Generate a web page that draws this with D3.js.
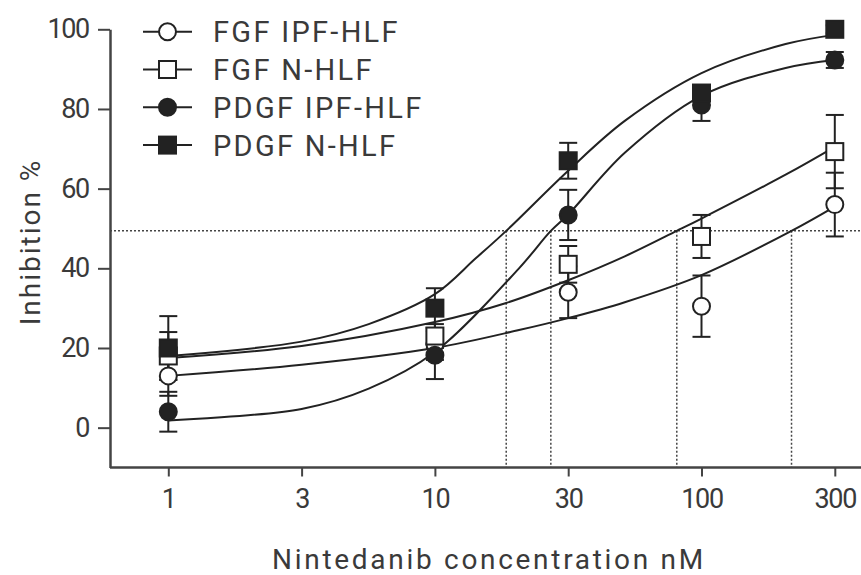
<!DOCTYPE html>
<html>
<head>
<meta charset="utf-8">
<script src="https://cdn.jsdelivr.net/npm/d3@7"></script>
<style>
  body { margin: 0; background: #fff; }
  text { font-family: Roboto, "DejaVu Sans", sans-serif; fill: #3a3a3a; }
</style>
</head>
<body>
<svg width="861" height="575"></svg>
<script>
// concentrations (nM) and tick labels
var xTicks = [1, 3, 10, 30, 100, 300];
var doses = [1, 10, 30, 100, 300];
var yTicks = [0, 20, 40, 60, 80, 100];

// mean inhibition % and error (+/-)
var fgfIpf = [13, 21, 34, 30.5, 56];
var fgfIpfErr = [5, 4, 6.5, 7.7, 8];
var fgfN = [18, 23, 41, 48, 69.3];
var fgfNErr = [6, 3, 4.6, 5.4, 9.2];
var pdgfIpf = [4, 18.2, 53.4, 81, 92.3];
var pdgfIpfErr = [5, 6, 6.3, 4, 2];
var pdgfN = [20, 30, 67, 84, 100];
var pdgfNErr = [8, 5, 4.5, 2, 1];

// fitted curves, sampled off the figure [nM, %]
var fgfIpfFit = [[1, 13], [3, 15.8], [10, 20], [20, 24.5], [30, 27.5], [50, 31.5], [100, 38.3], [210, 49.4], [300, 55.5]];
var fgfNFit = [[1, 17.5], [3, 20.5], [10, 26.5], [18, 31.3], [30, 37], [50, 43], [80, 49.4], [100, 52.5], [200, 63.5], [300, 70.5]];
var pdgfIpfFit = [[1, 1.8], [3, 4.7], [5.5, 9.8], [10, 19], [20, 40], [26, 49.4], [30, 53.5], [50, 69], [100, 83.3], [200, 90.3], [300, 92.3]];
var pdgfNFit = [[1, 18], [3, 21.6], [5.5, 26], [10, 33.5], [14, 42.5], [18, 49.4], [30, 64.5], [50, 77], [100, 89], [200, 96.3], [300, 98.6]];

// 50% guide and the crossing concentrations
var halfLevel = 49.4;
var crossings = [18, 26, 80, 210];

var series = [
  { name: "FGF IPF-HLF", shape: "circle", filled: false, values: fgfIpf, err: fgfIpfErr, fit: fgfIpfFit },
  { name: "FGF N-HLF", shape: "square", filled: false, values: fgfN, err: fgfNErr, fit: fgfNFit },
  { name: "PDGF IPF-HLF", shape: "circle", filled: true, values: pdgfIpf, err: pdgfIpfErr, fit: pdgfIpfFit },
  { name: "PDGF N-HLF", shape: "square", filled: true, values: pdgfN, err: pdgfNErr, fit: pdgfNFit }
];

var svg = d3.select("svg"),
    width = +svg.attr("width");
var ink = "#222";

// ticks on the x axis are evenly spaced, so a piecewise log scale
var x = d3.scaleLog()
    .domain(xTicks)
    .range(xTicks.map(function(d, i) { return 168.3 + i * 133.3; }));
var y = d3.scaleLinear().domain([-10, 100]).range([467.5, 29.3]);
var x0 = 110;

// guide lines
var guides = svg.append("g")
    .attr("stroke", "#444")
    .attr("stroke-width", 1.5)
    .attr("stroke-dasharray", "2,2");
guides.append("line")
    .attr("x1", x0).attr("x2", width)
    .attr("y1", y(halfLevel)).attr("y2", y(halfLevel));
guides.selectAll(".v").data(crossings).enter().append("line")
    .attr("x1", function(d) { return x(d); }).attr("x2", function(d) { return x(d); })
    .attr("y1", y(halfLevel)).attr("y2", y(-10));

// axes
svg.append("g")
    .attr("transform", "translate(" + x0 + ",0)")
    .call(d3.axisLeft(y).tickValues(yTicks).tickSize(12).tickSizeOuter(0).tickPadding(9));
var xAxis = svg.append("g")
    .attr("transform", "translate(0," + y(-10) + ")")
    .call(d3.axisBottom(x).tickValues(xTicks).tickFormat(d3.format("d")).tickSize(9).tickPadding(12));
xAxis.select(".domain").remove();
xAxis.append("line")
    .attr("x1", x0).attr("x2", width).attr("stroke", "#444").attr("stroke-width", 2.5);
svg.selectAll(".domain").attr("stroke", "#444").attr("stroke-width", 2.5);
svg.selectAll(".tick line").attr("stroke", "#444").attr("stroke-width", 2);
svg.selectAll(".tick text")
    .style("font-size", "27px")
    .style("letter-spacing", "-1.3px")
    .attr("fill", "#3a3a3a");

svg.append("text")
    .attr("x", 489).attr("y", 569)
    .attr("text-anchor", "middle")
    .style("font-size", "28px")
    .style("letter-spacing", "2.7px")
    .text("Nintedanib concentration nM");
svg.append("text")
    .attr("transform", "translate(40,242) rotate(-90)")
    .attr("text-anchor", "middle")
    .style("font-size", "28px")
    .style("letter-spacing", "2px")
    .text("Inhibition %");

// fitted curves
var line = d3.line()
    .x(function(d) { return x(d[0]); })
    .y(function(d) { return y(d[1]); })
    .curve(d3.curveCatmullRom.alpha(0.5));
svg.append("g").selectAll("path").data(series).enter().append("path")
    .attr("fill", "none")
    .attr("stroke", ink)
    .attr("stroke-width", 2)
    .attr("d", function(s) { return line(s.fit); });

function drawMarker(g, s, cx, cy) {
  if (s.shape === "circle") {
    g.append("circle").attr("cx", cx).attr("cy", cy).attr("r", 8.5)
      .attr("fill", s.filled ? ink : "#fff")
      .attr("stroke", ink).attr("stroke-width", 2);
  } else {
    g.append("rect").attr("x", cx - 8.5).attr("y", cy - 8.5)
      .attr("width", 17).attr("height", 17)
      .attr("fill", s.filled ? ink : "#fff")
      .attr("stroke", ink).attr("stroke-width", 2);
  }
}

// error bars and points
series.forEach(function(s) {
  var g = svg.append("g").attr("stroke", ink).attr("stroke-width", 2);
  doses.forEach(function(d, i) {
    var cx = x(d), hi = y(s.values[i] + s.err[i]), lo = y(s.values[i] - s.err[i]);
    g.append("line").attr("x1", cx).attr("x2", cx).attr("y1", hi).attr("y2", lo);
    g.append("line").attr("x1", cx - 9).attr("x2", cx + 9).attr("y1", hi).attr("y2", hi);
    g.append("line").attr("x1", cx - 9).attr("x2", cx + 9).attr("y1", lo).attr("y2", lo);
  });
});
series.forEach(function(s) {
  var g = svg.append("g");
  doses.forEach(function(d, i) { drawMarker(g, s, x(d), y(s.values[i])); });
});

// legend
var legend = svg.append("g");
series.forEach(function(s, i) {
  var ly = 31.7 + i * 37.8;
  var row = legend.append("g");
  row.append("line").attr("x1", 143).attr("x2", 192).attr("y1", ly).attr("y2", ly)
    .attr("stroke", ink).attr("stroke-width", 2);
  drawMarker(row, s, 167.5, ly);
  row.append("text").attr("x", 213).attr("y", ly).attr("dy", "0.36em")
    .style("font-size", "29px")
    .style("letter-spacing", "2.3px")
    .text(s.name);
});
</script>
</body>
</html>
